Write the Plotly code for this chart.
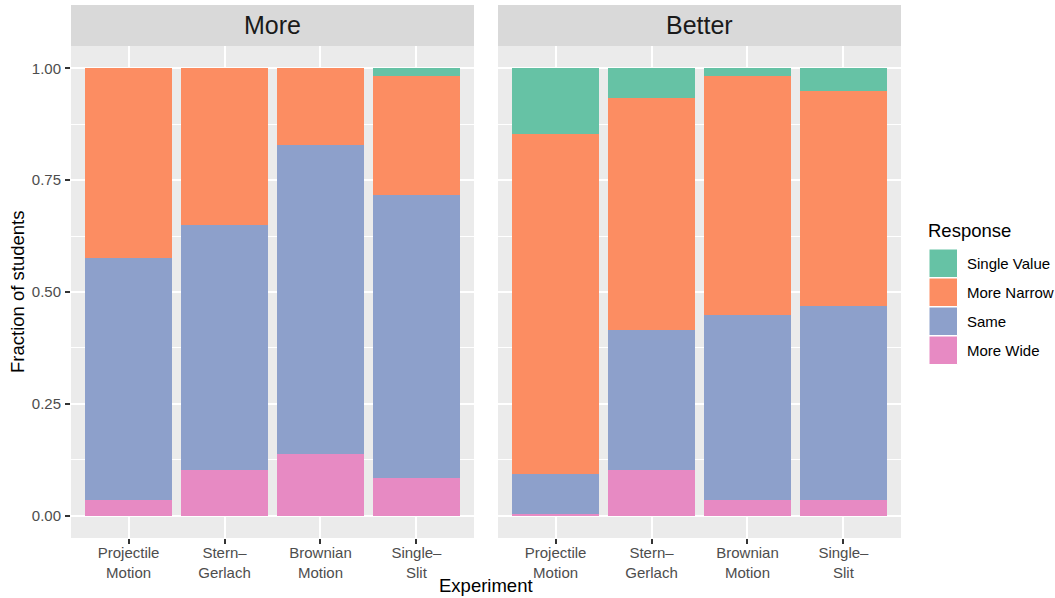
import plotly.graph_objects as go

# ---- data ----
experiments = ["Projectile Motion", "Stern-Gerlach", "Brownian Motion", "Single-Slit"]
tick_labels = ["Projectile<br>Motion", "Stern–<br>Gerlach", "Brownian<br>Motion", "Single–<br>Slit"]
panels = ["More", "Better"]
responses = ["More Wide", "Same", "More Narrow", "Single Value"]  # stacking order (bottom -> top)
legend_order = ["Single Value", "More Narrow", "Same", "More Wide"]
colors = {"Single Value": "#66C2A5", "More Narrow": "#FC8D62", "Same": "#8DA0CB", "More Wide": "#E78AC3"}

more_wide_more = [0.034, 0.101, 0.138, 0.085]
same_more = [0.541, 0.549, 0.690, 0.631]
narrow_more = [0.425, 0.350, 0.172, 0.267]
single_more = [0.0, 0.0, 0.0, 0.017]

more_wide_better = [0.003, 0.101, 0.034, 0.034]
same_better = [0.091, 0.315, 0.415, 0.434]
narrow_better = [0.760, 0.518, 0.535, 0.481]
single_better = [0.146, 0.066, 0.016, 0.051]

values = {
    "More": {"More Wide": more_wide_more, "Same": same_more,
             "More Narrow": narrow_more, "Single Value": single_more},
    "Better": {"More Wide": more_wide_better, "Same": same_better,
               "More Narrow": narrow_better, "Single Value": single_better},
}

# ---- layout geometry (pixels) ----
W, H = 1055, 598
L, R, T, B = 71, 901, 46, 538
pw, ph = R - L, B - T
px2x = lambda px: (px - L) / pw
py2y = lambda py: (B - py) / ph

FONT = "Liberation Sans, Arial, Helvetica, sans-serif"

fig = go.Figure()
axes = [("x", "y"), ("x2", "y2")]
for (xa, ya), panel in zip(axes, panels):
    for resp in responses:
        fig.add_bar(x=experiments, y=values[panel][resp], xaxis=xa, yaxis=ya,
                    name=resp, marker=dict(color=colors[resp], line=dict(width=0)),
                    width=0.9, showlegend=False,
                    hovertemplate=resp + ": %{y:.3f}<extra></extra>")

xcommon = dict(type="category", range=[-0.6, 3.6], tickmode="array",
               tickvals=experiments, ticktext=tick_labels,
               showgrid=True, gridcolor="white", gridwidth=1.8,
               ticks="outside", ticklen=5, tickwidth=1.8, tickcolor="#333333",
               ticklabelstandoff=-4,
               tickfont=dict(size=15, color="#4D4D4D", family=FONT),
               showline=False, zeroline=False, fixedrange=True)
ycommon = dict(range=[-0.05, 1.05], tickmode="linear", tick0=0, dtick=0.25,
               tickformat=".2f", showgrid=True, gridcolor="white", gridwidth=1.8,
               minor=dict(dtick=0.125, showgrid=True, gridcolor="white", gridwidth=0.9, ticks=""),
               zeroline=False, showline=False, fixedrange=True)

d1 = [0, px2x(474)]
d2 = [px2x(498), 1]
fig.update_layout(
    width=W, height=H, autosize=False,
    margin=dict(l=L, r=W - R, t=T, b=H - B, pad=0),
    paper_bgcolor="white", plot_bgcolor="#EBEBEB",
    barmode="stack", bargap=0,
    font=dict(family=FONT, color="black"),
    xaxis=dict(domain=d1, anchor="y", **xcommon),
    xaxis2=dict(domain=d2, anchor="y2", **xcommon),
    yaxis=dict(domain=[0, 1], anchor="x", ticks="outside", ticklen=5, tickwidth=1.8,
               tickcolor="#333333", tickfont=dict(size=15, color="#4D4D4D", family=FONT),
               ticklabelstandoff=1, **ycommon),
    yaxis2=dict(domain=[0, 1], anchor="x2", matches="y", showticklabels=False, ticks="",
                **ycommon),
    showlegend=False,
)

shapes = []
annotations = []
# facet strips
for dom, panel in zip([d1, d2], panels):
    shapes.append(dict(type="rect", xref="paper", yref="paper", x0=dom[0], x1=dom[1],
                       y0=1, y1=py2y(5), fillcolor="#D9D9D9", line=dict(width=0), layer="below"))
    annotations.append(dict(text=panel, xref="paper", yref="paper", x=(dom[0] + dom[1]) / 2,
                            y=py2y(25.5), xanchor="center", yanchor="middle", showarrow=False,
                            font=dict(size=25, color="#1A1A1A", family=FONT)))

# axis titles
annotations.append(dict(text="Fraction of students", xref="paper", yref="paper",
                        x=px2x(17), y=py2y((T + B) / 2), textangle=-90, xanchor="center",
                        yanchor="middle", showarrow=False, font=dict(size=18.5, color="black")))
annotations.append(dict(text="Experiment", xref="paper", yref="paper",
                        x=px2x((L + R) / 2), y=py2y(585.5), xanchor="center", yanchor="middle",
                        showarrow=False, font=dict(size=18.5, color="black")))

# legend
annotations.append(dict(text="Response", xref="paper", yref="paper", x=px2x(926), y=py2y(230),
                        xanchor="left", yanchor="middle", showarrow=False,
                        font=dict(size=18.5, color="black")))
for i, resp in enumerate(legend_order):
    top = 249 + 29 * i
    shapes.append(dict(type="rect", xref="paper", yref="paper", x0=px2x(929), x1=px2x(957.5),
                       y0=py2y(top + 28.5), y1=py2y(top), fillcolor=colors[resp],
                       line=dict(color="white", width=1)))
    annotations.append(dict(text=resp, xref="paper", yref="paper", x=px2x(965.5),
                            y=py2y(top + 14.5), xanchor="left", yanchor="middle",
                            showarrow=False, font=dict(size=15, color="black")))

fig.update_layout(shapes=shapes, annotations=annotations)
fig.write_html("out.html", config={"displayModeBar": False},
               post_script="document.body.style.margin='0';")
